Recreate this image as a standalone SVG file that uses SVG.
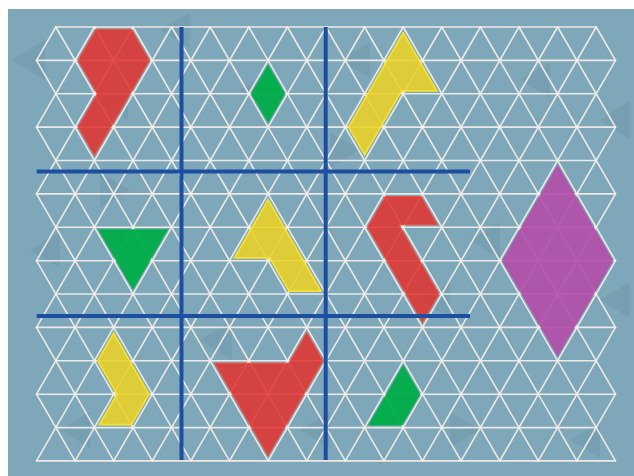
<svg xmlns="http://www.w3.org/2000/svg" width="634" height="476" viewBox="0 0 634 476">
<style>
.grid line{stroke:#f5efe9;stroke-width:1.6;stroke-opacity:0.92;stroke-linecap:round}
.shade{fill:#34586a;fill-opacity:0.1}
.red{fill:#e2322e;fill-opacity:0.86;stroke:#f4503c;stroke-width:6;stroke-opacity:0.95;stroke-linejoin:miter}
.yellow{fill:#ecd126;fill-opacity:0.88;stroke:#f8e232;stroke-width:7.5;stroke-opacity:0.95;stroke-linejoin:miter}
.green{fill:#00ad48;fill-opacity:0.95;stroke:#06b04c;stroke-width:5;stroke-linejoin:miter}
.magenta{fill:#b24ca9;fill-opacity:0.9;stroke:#b756ae;stroke-width:5;stroke-linejoin:miter}
.cut use{fill:#ffffff;stroke:#000000;stroke-width:4;stroke-linejoin:miter}
.blue line{stroke:#1c4ea2;stroke-width:4}
</style>
<defs>
<polygon id="p-red-top" points="94.4,27 133.0,27 152.3,60.4 94.4,160.5 75.1,127.1 94.4,93.8 75.1,60.4"/>
<polygon id="p-green-diamond" points="268.1,60.4 287.4,93.8 268.1,127.1 248.8,93.8"/>
<polygon id="p-yellow-top" points="403.2,27 441.8,93.8 403.2,93.8 364.6,160.5 345.3,127.1"/>
<polygon id="p-green-triangle" points="94.4,227.3 171.6,227.3 133.0,294.0"/>
<polygon id="p-yellow-middle" points="268.1,193.9 326.0,294.0 287.4,294.0 268.1,260.7 229.5,260.7"/>
<polygon id="p-red-middle" points="383.9,193.9 422.5,193.9 441.8,227.3 403.2,227.3 441.8,294.0 422.5,327.4 364.6,227.3"/>
<polygon id="p-magenta" points="557.6,160.5 615.5,260.7 557.6,360.8 499.7,260.7"/>
<polygon id="p-yellow-bottom" points="113.7,327.4 152.3,394.2 133.0,427.6 94.4,427.6 113.7,394.2 94.4,360.8"/>
<polygon id="p-red-bottom" points="210.2,360.8 287.4,360.8 306.7,327.4 326.0,360.8 268.1,460.9"/>
<polygon id="p-green-parallelogram" points="403.2,360.8 422.5,394.2 403.2,427.6 364.6,427.6"/>
<mask id="inset" class="cut" maskUnits="userSpaceOnUse" x="0" y="0" width="634" height="476">
<use href="#p-red-top"/><use href="#p-green-diamond"/><use href="#p-yellow-top"/><use href="#p-green-triangle"/><use href="#p-yellow-middle"/><use href="#p-red-middle"/><use href="#p-magenta"/><use href="#p-yellow-bottom"/><use href="#p-red-bottom"/><use href="#p-green-parallelogram"/>
</mask>
</defs>
<rect width="634" height="476" fill="#ffffff"/>
<rect x="8" y="9" width="626" height="467" fill="#7ea8ba"/>
<g id="texture">
<polygon class="shade" points="12,60 45,40 45,80"/>
<polygon class="shade" points="30,250 60,232 60,268"/>
<polygon class="shade" points="95,100 128,80 128,120"/>
<polygon class="shade" points="160,30 190,12 190,48"/>
<polygon class="shade" points="200,340 232,320 232,360"/>
<polygon class="shade" points="240,90 272,70 272,110"/>
<polygon class="shade" points="300,430 330,412 330,448"/>
<polygon class="shade" points="340,60 370,42 370,78"/>
<polygon class="shade" points="360,150 330,132 330,168"/>
<polygon class="shade" points="470,240 500,222 500,258"/>
<polygon class="shade" points="520,80 550,62 550,98"/>
<polygon class="shade" points="600,120 630,100 630,140"/>
<polygon class="shade" points="570,440 600,422 600,458"/>
<polygon class="shade" points="480,430 450,412 450,448"/>
<polygon class="shade" points="60,430 90,412 90,448"/>
<polygon class="shade" points="420,300 450,282 450,318"/>
<polygon class="shade" points="600,300 630,282 630,318"/>
<polygon class="shade" points="130,190 100,172 100,208"/>
</g>
<g id="grid" class="grid">
<line x1="55.8" y1="27" x2="596.2" y2="27"/>
<line x1="36.5" y1="60.4" x2="615.5" y2="60.4"/>
<line x1="55.8" y1="93.8" x2="596.2" y2="93.8"/>
<line x1="36.5" y1="127.1" x2="615.5" y2="127.1"/>
<line x1="55.8" y1="160.5" x2="596.2" y2="160.5"/>
<line x1="36.5" y1="193.9" x2="615.5" y2="193.9"/>
<line x1="55.8" y1="227.3" x2="596.2" y2="227.3"/>
<line x1="36.5" y1="260.7" x2="615.5" y2="260.7"/>
<line x1="55.8" y1="294.0" x2="596.2" y2="294.0"/>
<line x1="36.5" y1="327.4" x2="615.5" y2="327.4"/>
<line x1="55.8" y1="360.8" x2="596.2" y2="360.8"/>
<line x1="36.5" y1="394.2" x2="615.5" y2="394.2"/>
<line x1="55.8" y1="427.6" x2="596.2" y2="427.6"/>
<line x1="36.5" y1="460.9" x2="615.5" y2="460.9"/>
<line x1="36.5" y1="394.2" x2="75.1" y2="460.9"/>
<line x1="36.5" y1="327.4" x2="113.7" y2="460.9"/>
<line x1="36.5" y1="260.7" x2="152.3" y2="460.9"/>
<line x1="36.5" y1="193.9" x2="190.9" y2="460.9"/>
<line x1="36.5" y1="127.1" x2="229.5" y2="460.9"/>
<line x1="36.5" y1="60.4" x2="268.1" y2="460.9"/>
<line x1="55.8" y1="27" x2="306.7" y2="460.9"/>
<line x1="94.4" y1="27" x2="345.3" y2="460.9"/>
<line x1="133.0" y1="27" x2="383.9" y2="460.9"/>
<line x1="171.6" y1="27" x2="422.5" y2="460.9"/>
<line x1="210.2" y1="27" x2="461.1" y2="460.9"/>
<line x1="248.8" y1="27" x2="499.7" y2="460.9"/>
<line x1="287.4" y1="27" x2="538.3" y2="460.9"/>
<line x1="326.0" y1="27" x2="576.9" y2="460.9"/>
<line x1="364.6" y1="27" x2="615.5" y2="460.9"/>
<line x1="403.2" y1="27" x2="615.5" y2="394.2"/>
<line x1="441.8" y1="27" x2="615.5" y2="327.4"/>
<line x1="480.4" y1="27" x2="615.5" y2="260.7"/>
<line x1="519.0" y1="27" x2="615.5" y2="193.9"/>
<line x1="557.6" y1="27" x2="615.5" y2="127.1"/>
<line x1="596.2" y1="27" x2="615.5" y2="60.4"/>
<line x1="55.8" y1="27" x2="36.5" y2="60.4"/>
<line x1="94.4" y1="27" x2="36.5" y2="127.1"/>
<line x1="133.0" y1="27" x2="36.5" y2="193.9"/>
<line x1="171.6" y1="27" x2="36.5" y2="260.7"/>
<line x1="210.2" y1="27" x2="36.5" y2="327.4"/>
<line x1="248.8" y1="27" x2="36.5" y2="394.2"/>
<line x1="287.4" y1="27" x2="36.5" y2="460.9"/>
<line x1="326.0" y1="27" x2="75.1" y2="460.9"/>
<line x1="364.6" y1="27" x2="113.7" y2="460.9"/>
<line x1="403.2" y1="27" x2="152.3" y2="460.9"/>
<line x1="441.8" y1="27" x2="190.9" y2="460.9"/>
<line x1="480.4" y1="27" x2="229.5" y2="460.9"/>
<line x1="519.0" y1="27" x2="268.1" y2="460.9"/>
<line x1="557.6" y1="27" x2="306.7" y2="460.9"/>
<line x1="596.2" y1="27" x2="345.3" y2="460.9"/>
<line x1="615.5" y1="60.4" x2="383.9" y2="460.9"/>
<line x1="615.5" y1="127.1" x2="422.5" y2="460.9"/>
<line x1="615.5" y1="193.9" x2="461.1" y2="460.9"/>
<line x1="615.5" y1="260.7" x2="499.7" y2="460.9"/>
<line x1="615.5" y1="327.4" x2="538.3" y2="460.9"/>
<line x1="615.5" y1="394.2" x2="576.9" y2="460.9"/>
</g>
<g id="shapes" mask="url(#inset)">
<g id="shape-red-top"><use href="#p-red-top" class="red"/></g>
<g id="shape-green-diamond"><use href="#p-green-diamond" class="green"/></g>
<g id="shape-yellow-top"><use href="#p-yellow-top" class="yellow"/></g>
<g id="shape-green-triangle"><use href="#p-green-triangle" class="green"/></g>
<g id="shape-yellow-middle"><use href="#p-yellow-middle" class="yellow"/></g>
<g id="shape-red-middle"><use href="#p-red-middle" class="red"/></g>
<g id="shape-magenta"><use href="#p-magenta" class="magenta"/></g>
<g id="shape-yellow-bottom"><use href="#p-yellow-bottom" class="yellow"/></g>
<g id="shape-red-bottom"><use href="#p-red-bottom" class="red"/></g>
<g id="shape-green-parallelogram"><use href="#p-green-parallelogram" class="green"/></g>
</g>
<g id="blue-lines" class="blue">
<line x1="181.5" y1="27" x2="181.5" y2="460"/>
<line x1="325.7" y1="27" x2="325.7" y2="460"/>
<line x1="36.7" y1="171.5" x2="470" y2="171.5"/>
<line x1="36.7" y1="316" x2="470" y2="316"/>
</g>
</svg>
